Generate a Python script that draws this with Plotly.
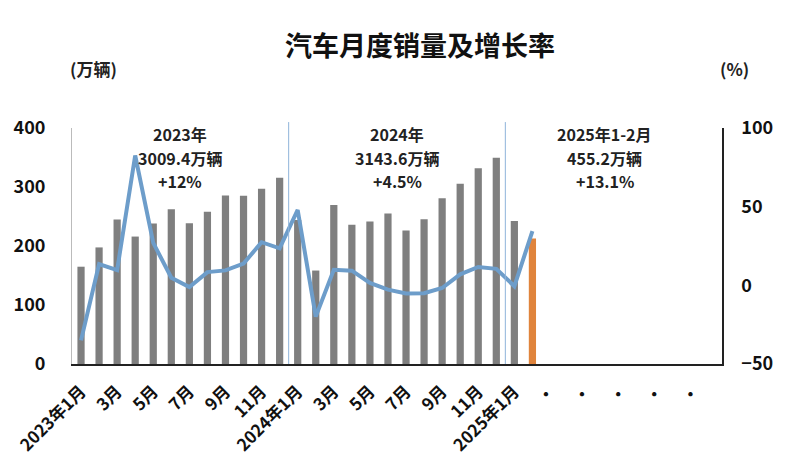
import plotly.graph_objects as go

months = [f"{y}-{m:02d}" for y in (2023, 2024, 2025) for m in range(1, 13)]
sales = [164.9, 197.6, 245.1, 216.0, 238.2, 262.2, 238.7, 258.2, 285.8, 285.3, 297.0, 315.6,
         243.9, 158.4, 269.4, 235.9, 241.7, 255.2, 226.2, 245.3, 280.9, 305.3, 331.6, 349.6,
         242.3, 212.9]
growth = [-35.0, 13.5, 9.7, 82.5, 27.0, 4.8, -1.1, 8.4, 9.5, 13.8, 27.4, 23.5,
          47.9, -19.9, 9.9, 9.3, 1.5, -2.7, -5.2, -5.0, -1.7, 7.0, 11.7, 10.5,
          -0.6, 34.4]
bar_colors = ["#7f7f7f"] * 25 + ["#e0843c"]

tick_idx = [0, 2, 4, 6, 8, 10, 12, 14, 16, 18, 20, 22, 24, 26, 28, 30, 32, 34]
tick_txt = ["2023年1月", "3月", "5月", "7月", "9月", "11月",
            "2024年1月", "3月", "5月", "7月", "9月", "11月",
            "2025年1月", "·", "·", "·", "·", "·"]

annos = [
    (5.5, ["2023年", "3009.4万辆", "+12%"]),
    (17.5, ["2024年", "3143.6万辆", "+4.5%"]),
    (29.0, ["2025年1-2月", "455.2万辆", "+13.1%"]),
]
line_px = [134, 158, 182]

FONT = "Noto Sans CJK SC"
TOP, BOT, LEFT, RIGHT = 128, 367, 72, 722
H = BOT - TOP
W = RIGHT - LEFT


def py(p):
    return (BOT - p) / H


def px(p):
    return (p - LEFT) / W


fig = go.Figure()
fig.add_trace(go.Bar(x=months[:len(sales)], y=sales, marker_color=bar_colors,
                     marker_line_width=0, width=0.4, yaxis="y"))
fig.add_trace(go.Scatter(x=months[:len(growth)], y=growth, mode="lines",
                         line=dict(color="#6d9dca", width=4), yaxis="y2"))

for sx in (11.5, 23.5):
    fig.add_shape(type="line", xref="x", yref="paper", x0=sx, x1=sx, y0=0, y1=py(122),
                  line=dict(color="#8fb4da", width=1))

for xa, lines in annos:
    for t, yp in zip(lines, line_px):
        fig.add_annotation(x=xa, xref="x", y=py(yp), yref="paper", yanchor="middle",
                           text=t, showarrow=False, align="center",
                           font=dict(family=FONT, size=16, color="#222222", weight="bold"))

fig.add_annotation(x=px(420), xref="paper", xanchor="center", y=py(43), yref="paper",
                   yanchor="middle", text="汽车月度销量及增长率", showarrow=False,
                   font=dict(family=FONT, size=27, color="#111111", weight="bold"))
fig.add_annotation(x=px(93), xref="paper", xanchor="center", y=py(68), yref="paper",
                   yanchor="middle", text="(万辆)", showarrow=False,
                   font=dict(family=FONT, size=17, color="#222222", weight="bold"))
fig.add_annotation(x=px(734), xref="paper", xanchor="center", y=py(68), yref="paper",
                   yanchor="middle", text="(%)", showarrow=False,
                   font=dict(family=FONT, size=17, color="#222222", weight="bold"))

fig.update_layout(
    width=797, height=468,
    margin=dict(l=LEFT, r=797 - RIGHT, t=TOP, b=468 - BOT),
    paper_bgcolor="white", plot_bgcolor="white",
    showlegend=False, bargap=0.6,
    xaxis=dict(type="category", categoryorder="array", categoryarray=months,
               range=[-0.5, 35.5], tickmode="array", tickvals=[months[i] for i in tick_idx],
               ticktext=tick_txt, tickangle=-45, showline=True, linecolor="#222222",
               linewidth=1.5, ticks="", showgrid=False, ticklabelstandoff=9,
               tickfont=dict(family=FONT, size=17, color="#111111", weight="bold")),
    yaxis=dict(range=[0, 400], dtick=100, showgrid=False, zeroline=False,
               showline=True, linecolor="#bbbbbb", linewidth=1, ticks="",
               ticklabelstandoff=22,
               tickfont=dict(family=FONT, size=18, color="#111111", weight="bold")),
    yaxis2=dict(range=[-50, 100], dtick=50, overlaying="y", side="right",
                showgrid=False, zeroline=False, showline=True, linecolor="#222222",
                linewidth=1.5, ticks="", ticklabelstandoff=14,
                tickfont=dict(family=FONT, size=18, color="#111111", weight="bold")),
)

fig.write_html("out.html")
